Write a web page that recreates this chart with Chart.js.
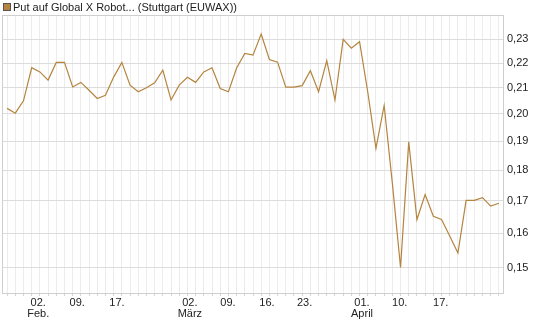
<!DOCTYPE html>
<html>
<head>
<meta charset="utf-8">
<script src="https://cdn.jsdelivr.net/npm/chart.js@4/dist/chart.umd.min.js"></script>
<style>
  body { margin: 0; background: #fff; }
</style>
</head>
<body>
<canvas id="chart" width="545" height="327"></canvas>
<script>
// Kursverlauf (ein Wert pro Handelstag)
const seriesLabel = 'Put auf Global X Robot... (Stuttgart (EUWAX))';
const prices = [
    0.2021, 0.2003, 0.2050, 0.2181, 0.2164, 0.2131, 0.2203, 0.2203, 0.2104, 0.2122,
    0.2091, 0.2059, 0.2071, 0.2143, 0.2203, 0.2111, 0.2085, 0.2101, 0.2120, 0.2171,
    0.2053, 0.2111, 0.2142, 0.2122, 0.2164, 0.2181, 0.2098, 0.2085, 0.2180, 0.2240,
    0.2233, 0.2323, 0.2215, 0.2204, 0.2103, 0.2103, 0.2109, 0.2169, 0.2085, 0.2210,
    0.2053, 0.2300, 0.2262, 0.2290, 0.2084, 0.1875, 0.2032, 0.1757, 0.1500, 0.1898,
    0.1641, 0.1720, 0.1651, 0.1641, 0.1591, 0.1541, 0.1701, 0.1701, 0.1710, 0.1683,
    0.1692
];

// Achsen
const yTicks = [0.15, 0.16, 0.17, 0.18, 0.19, 0.20, 0.21, 0.22, 0.23];
const xTickPos = [3.8, 8.55, 13.4, 22.3, 26.95, 31.7, 36.3, 43.3, 47.9, 52.9];
const xTickDays = ['02.', '09.', '17.', '02.', '09.', '16.', '23.', '01.', '10.', '17.'];
const xTickMonths = ['Feb.', '', '', 'März', '', '', '', 'April', '', ''];

const lineColor = '#b5843f';
const textColor = '#222';
const font = { family: 'Liberation Sans, Arial, sans-serif', size: 11 };

// Rahmen um den Plotbereich
const framePlugin = {
    id: 'frame',
    beforeDatasetsDraw(chart) {
        const { ctx, chartArea: a } = chart;
        ctx.save();
        ctx.strokeStyle = '#cfcfcf';
        ctx.lineWidth = 1;
        ctx.strokeRect(Math.round(a.left) - 0.5, Math.round(a.top) - 0.5,
            Math.round(a.right - a.left) + 1, Math.round(a.bottom - a.top) + 1);
        ctx.restore();
    }
};

// Legende oben links
const legendPlugin = {
    id: 'simpleLegend',
    afterDraw(chart) {
        const { ctx } = chart;
        const ds = chart.data.datasets[0];
        ctx.save();
        ctx.fillStyle = ds.borderColor;
        ctx.fillRect(3, 3, 8, 8);
        ctx.strokeStyle = '#555';
        ctx.lineWidth = 1;
        ctx.strokeRect(3.5, 3.5, 7, 7);
        ctx.fillStyle = textColor;
        ctx.font = `${font.size}px ${font.family}`;
        ctx.textBaseline = 'alphabetic';
        ctx.fillText(ds.label, 13, 11);
        ctx.restore();
    }
};

new Chart(document.getElementById('chart'), {
    type: 'line',
    data: {
        datasets: [{
            label: seriesLabel,
            data: prices.map((v, i) => ({ x: i, y: v })),
            borderColor: lineColor,
            borderWidth: 1.2,
            pointRadius: 0,
            tension: 0,
            fill: false
        }]
    },
    options: {
        responsive: false,
        animation: false,
        devicePixelRatio: 1,
        layout: { padding: { top: 16, left: 3, right: 0, bottom: 0 } },
        plugins: {
            legend: { display: false },
            tooltip: { enabled: false }
        },
        scales: {
            xGrid: {
                type: 'linear',
                position: 'bottom',
                weight: 0,
                min: -0.5,
                max: prices.length - 0.5,
                afterBuildTicks: scale => {
                    scale.ticks = prices.map((_, i) => ({ value: i }));
                },
                afterFit: scale => { scale.height = 3; },
                grid: { color: '#ececec', drawTicks: true, tickLength: 3, tickColor: '#d5d5d5' },
                border: { display: false },
                ticks: { display: false }
            },
            x: {
                type: 'linear',
                position: 'bottom',
                weight: 1,
                min: -0.5,
                max: prices.length - 0.5,
                afterBuildTicks: scale => {
                    scale.ticks = xTickPos.map(p => ({ value: p }));
                },
                afterFit: scale => { scale.height = 31; },
                grid: { display: false },
                border: { display: false },
                ticks: {
                    autoSkip: false,
                    maxRotation: 0,
                    padding: -7,
                    color: textColor,
                    font: { ...font, lineHeight: 1.05 },
                    callback: (value, index) => xTickMonths[index]
                        ? [xTickDays[index], xTickMonths[index]]
                        : xTickDays[index]
                }
            },
            y: {
                type: 'logarithmic',
                position: 'right',
                bounds: 'data',
                min: 0.143,
                max: 0.2403,
                afterBuildTicks: scale => {
                    scale.ticks = yTicks.map(v => ({ value: v }));
                },
                afterFit: scale => { scale.width = 42; },
                grid: { color: '#dcdcdc', drawTicks: false },
                border: { display: false },
                ticks: {
                    padding: 4,
                    color: textColor,
                    font: font,
                    callback: value => value.toFixed(2).replace('.', ',')
                }
            }
        }
    },
    plugins: [framePlugin, legendPlugin]
});
</script>
</body>
</html>
